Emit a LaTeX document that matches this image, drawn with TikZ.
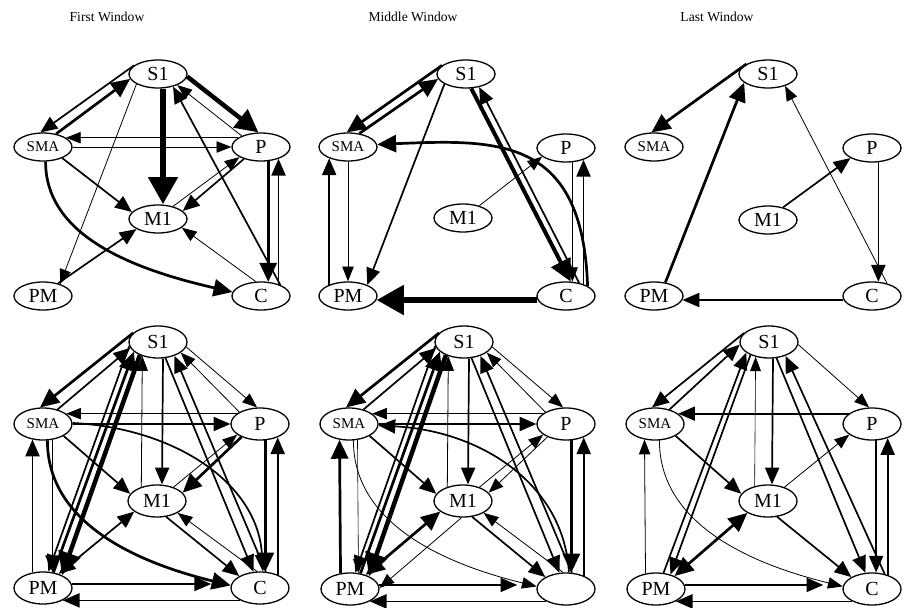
\documentclass[tikz,border=0pt]{standalone}
\usepackage{fontspec}
\setmainfont{Liberation Serif}
\usetikzlibrary{arrows.meta,shapes.geometric}

\begin{document}
\begin{tikzpicture}[x=1pt,y=-1pt,>={Triangle[length=13pt 2.2,width=9pt 3]},
 area/.style={draw,ellipse,line width=1.3pt,minimum width=58pt,minimum height=28pt,inner sep=0pt,font=\fontsize{20}{20}\selectfont},
 low/.style={area,minimum height=32pt},
 sma/.style={font=\fontsize{15}{15}\selectfont},
 title/.style={font=\fontsize{13.6}{14}\selectfont},
 w1/.style={line width=0.8pt},
 w2/.style={line width=1.7pt},
 w3/.style={line width=2.7pt},
 w4/.style={line width=6.5pt}]
\useasboundingbox (0,0) rectangle (911,608);

\node[title] (t1) at (107,17) {First Window};
\node[title] (t2) at (413,17) {Middle Window};
\node[title] (t3) at (717,17) {Last Window};

% first window, top
\node[area] (aS1) at (158,74) {S1};
\node[area,sma] (aSMA) at (43,147) {SMA};
\node[area] (aP) at (261,147) {P};
\node[area] (aM1) at (158,219) {M1};
\node[area] (aPM) at (43,296) {PM};
\node[area] (aC) at (261,296) {C};
\draw[w2,->] (aS1.160) -- (aSMA.100);
\draw[w3,->] (aSMA.45) -- (aS1.190);
\draw[w1,->] (aS1.205) -- (aPM.35);
\draw[w4,->] ([xshift=5pt]aS1.south) -- ([xshift=5pt]aM1.north);
\draw[line width=4.5pt,->] (aS1.355) -- (aP.100);
\draw[w1,->] (aP.150) -- (aS1.330);
\draw[w1,->] (aP.158) -- (aSMA.22);
\draw[w1,->] (aSMA.east) -- (aP.west);
\draw[w2,->] (aSMA.330) -- (aM1.165);
\draw[w3,->] (aSMA.280) .. controls +(0,70) and +(-110,-25) .. (aC.172);
\draw[w2,->] (aPM.40) -- (aM1.205);
\draw[w1,->] (aM1.40) -- (aP.205);
\draw[w2,->] (aP.215) -- (aM1.18);
\draw[w3,->] (aP.-63) -- (aC.63);
\draw[w2,->] (aC.34) -- (aP.-34);
\draw[w2,->] (aC.30) -- (aS1.320);
\draw[w1,->] (aC.110) -- (aM1.340);

% middle window, top
\node[area] (bS1) at (466,74) {S1};
\node[area,sma] (bSMA) at (348,147) {SMA};
\node[area] (bP) at (566,148) {P};
\node[area] (bM1) at (463,218) {M1};
\node[area] (bPM) at (348,296) {PM};
\node[area] (bC) at (566,296) {C};
\draw[w3,->] (bS1.160) -- (bSMA.95);
\draw[w3,->] (bSMA.50) -- (bS1.190);
\draw[w2,->] (bS1.205) -- (bPM.30);
\draw[line width=4pt,->] (bS1.290) -- (bC.72);
\draw[w2,->] (bC.45) -- (bS1.315);
\draw[w3,->] (bC.25) .. controls +(-5,-150) and +(120,-5) .. (bSMA.5);
\draw[w1,->] (bM1.37) -- (bP.200);
\draw[line width=0.6pt,->] (bP.-66) -- (bC.66);
\draw[w2,->] (bC.34) -- (bP.-34);
\draw[w1,->] (bSMA.south) -- (bPM.north);
\draw[w2,->] (bPM.149) -- (bSMA.211);
\draw[w4,->] (bC.188) -- (bPM.352);

% last window, top
\node[area] (cS1) at (768,74) {S1};
\node[area,sma] (cSMA) at (654,147) {SMA};
\node[area] (cP) at (872,148) {P};
\node[area] (cM1) at (768,220) {M1};
\node[area] (cPM) at (654,296) {PM};
\node[area] (cC) at (872,296) {C};
\draw[w3,->] (cS1.155) -- (cSMA.100);
\draw[w3,->] (cPM.50) -- (cS1.200);
\draw[w1,->] (cC.40) -- (cS1.325);
\draw[w2,->] (cM1.40) -- (cP.205);
\draw[w2,->] (cP.-66) -- (cC.66);
\draw[w2,->] (cC.188) -- (cPM.352);

% first window, bottom
\node[low] (dS1) at (158,342) {S1};
\node[low,sma] (dSMA) at (43,424) {SMA};
\node[low] (dP) at (260,424) {P};
\node[low] (dM1) at (157,501) {M1};
\node[low] (dPM) at (43,588) {PM};
\node[low] (dC) at (260,588) {C};
\draw[w3,->] (dS1.160) -- (dSMA.100);
\draw[w2,->] (dSMA.45) -- (dS1.192);
\draw[w2,->] (dS1.188) -- (dPM.72);
\draw[w3,->] (dPM.56) -- (dS1.202);
\draw[line width=4.5pt,->] (dS1.216) -- (dPM.34);
\draw[w1,->] (dM1.138) -- (dS1.222);
\draw[w2,->] ([xshift=5pt]dS1.south) -- ([xshift=5pt]dM1.north);
\draw[w2,->] (dS1.295) -- (dC.112);
\draw[w2,->] (dC.70) -- (dS1.320);
\draw[w1,->] (dS1.350) -- (dP.100);
\draw[w1,->] (dP.150) -- (dS1.335);
\draw[w1,->] (dP.156) -- (dSMA.24);
\draw[w2,->] (dSMA.east) -- (dP.west);
\draw[w2,->] (dSMA.2) .. controls +(100,5) and +(-5,-90) .. (dC.80);
\draw[w3,->] (dSMA.285) .. controls +(0,75) and +(-110,-27) .. (dC.175);
\draw[w2,->] (dSMA.330) -- (dM1.165);
\draw[w2,<->] (dPM.42) -- (dM1.205);
\draw[w1,->] (dM1.40) -- (dP.205);
\draw[w3,->] (dP.215) -- (dM1.18);
\draw[w2,->] (dM1.300) -- (dC.150);
\draw[w1,->] (dC.100) -- (dM1.330);
\draw[w3,->] (dP.-72) -- (dC.72);
\draw[w2,->] (dC.37) -- (dP.-37);
\draw[w2,->] (dSMA.-59) -- (dPM.59);
\draw[w2,->] (dPM.124) -- (dSMA.236);
\draw[w2,->,shorten >=20pt] (dPM.8) -- (dC.172);
\draw[w2,->] (dC.212) -- (dPM.-32);

% middle window, bottom
\node[low] (eS1) at (464,342) {S1};
\node[low,sma] (eSMA) at (349,424) {SMA};
\node[low] (eP) at (566,424) {P};
\node[low] (eM1) at (463,501) {M1};
\node[low] (ePM) at (350,589) {PM};
\node[low] (eC) at (566,589) {};
\draw[w3,->] (eS1.160) -- (eSMA.100);
\draw[w2,->] (eSMA.45) -- (eS1.192);
\draw[w2,->] (eS1.188) -- (ePM.72);
\draw[w3,->] (ePM.56) -- (eS1.202);
\draw[line width=4.5pt,->] (eS1.216) -- (ePM.34);
\draw[w1,->] (eM1.138) -- (eS1.222);
\draw[w2,->] ([xshift=5pt]eS1.south) -- ([xshift=5pt]eM1.north);
\draw[w2,->] (eS1.295) -- (eC.112);
\draw[w2,->] (eC.70) -- (eS1.320);
\draw[w1,->] (eS1.350) -- (eP.100);
\draw[w1,->] (eP.150) -- (eS1.335);
\draw[w1,->] (eP.156) -- (eSMA.24);
\draw[w2,->] (eSMA.east) -- (eP.west);
\draw[w2,->] (eC.80) .. controls +(-5,-90) and +(100,5) .. (eSMA.-3);
\draw[w1,->] (eSMA.285) .. controls +(0,75) and +(-110,-27) .. (eC.175);
\draw[line width=0.6pt,->] (eSMA.-62) -- (ePM.62);
\draw[w3,->] (ePM.121) -- (eSMA.239);
\draw[w2,->] (eSMA.330) -- (eM1.165);
\draw[w3,<->] (ePM.42) -- (eM1.205);
\draw[w1,->] (eM1.265) -- (ePM.2);
\draw[w1,->] (eM1.40) -- (eP.205);
\draw[w1,->] (eP.215) -- (eM1.18);
\draw[w2,->] (eM1.300) -- (eC.150);
\draw[w1,->] (eC.100) -- (eM1.330);
\draw[w3,->] (eP.-72) -- (eC.72);
\draw[w2,->] (eC.37) -- (eP.-37);
\draw[w2,->,shorten >=20pt] (ePM.8) -- (eC.172);
\draw[w2,->] (eC.212) -- (ePM.-32);

% last window, bottom
\node[low] (fS1) at (769,342) {S1};
\node[low,sma] (fSMA) at (655,424) {SMA};
\node[low] (fP) at (872,424) {P};
\node[low] (fM1) at (768,501) {M1};
\node[low] (fPM) at (656,589) {PM};
\node[low] (fC) at (872,589) {C};
\draw[w2,->] (fS1.160) -- (fSMA.100);
\draw[w2,->] (fSMA.45) -- (fS1.185);
\draw[w2,->] (fPM.65) -- (fS1.205);
\draw[w2,->] (fS1.215) -- (fPM.45);
\draw[line width=0.6pt,->] (fM1.132) -- (fS1.228);
\draw[w2,->] ([xshift=4pt]fS1.south) -- ([xshift=4pt]fM1.north);
\draw[w2,->] (fS1.295) -- (fC.112);
\draw[w2,->] (fC.50) -- (fS1.320);
\draw[w1,->] (fS1.355) -- (fP.100);
\draw[w2,->] (fP.156) -- (fSMA.24);
\draw[w2,->] (fSMA.330) -- (fM1.165);
\draw[w1,->] (fSMA.285) .. controls +(0,75) and +(-110,-27) .. (fC.175);
\draw[w1,->] (fPM.124) -- (fSMA.236);
\draw[w3,<->] (fPM.35) -- (fM1.210);
\draw[w1,->] (fM1.40) -- (fP.205);
\draw[w2,->] (fM1.300) -- (fC.150);
\draw[w2,->] (fP.-76) -- (fC.76);
\draw[w2,->] (fC.42) -- (fP.-42);
\draw[w2,->,shorten >=20pt] (fPM.8) -- (fC.172);
\draw[w2,->] (fC.212) -- (fPM.-32);
\end{tikzpicture}
\end{document}
